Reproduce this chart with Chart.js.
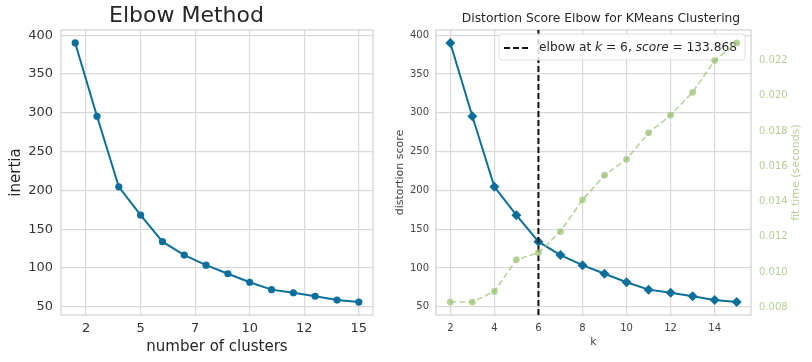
<!DOCTYPE html>
<html>
<head>
<meta charset="utf-8">
<script src="https://cdn.jsdelivr.net/npm/chart.js@4"></script>
<style>
  body { margin: 0; background: #fff; }
  #left-chart { position: absolute; left: 0; top: 0; }
  #right-chart { position: absolute; left: 390px; top: 0; }
</style>
</head>
<body>
<canvas id="left-chart" width="390" height="362"></canvas>
<canvas id="right-chart" width="422" height="362"></canvas>
<script>
// data
const kValues = [2, 3, 4, 5, 6, 7, 8, 9, 10, 11, 12, 13, 14, 15]
const inertia = [390, 295.5, 204.5, 168, 133.868, 116.5, 103.5, 92.5, 81.5, 72, 68, 63.5, 58.5, 56]
const fitTimes = [0.0083, 0.0083, 0.0089, 0.0107, 0.0111, 0.0123, 0.0141, 0.0155, 0.0164, 0.0179, 0.0189, 0.0202, 0.0220, 0.0230]
const elbowK = 6
const elbowScore = 133.868

const leftXTickValues = [2.5, 5, 7.5, 10, 12.5, 15]
const leftXTickLabels = ['2', '5', '7', '10', '12', '15']
const rightXTickValues = [2, 4, 6, 8, 10, 12, 14]
const scoreTickValues = [50, 100, 150, 200, 250, 300, 350, 400]
const timeTickValues = [0.008, 0.010, 0.012, 0.014, 0.016, 0.018, 0.020, 0.022]

const blue = '#0c6f9b'
const green = 'rgba(159, 195, 119, 0.75)'
const greenText = '#b3cf95'
const gridColor = '#d9d9d9'

Chart.defaults.font.family = "'DejaVu Sans', sans-serif"
Chart.defaults.color = '#333'

// matplotlib style 5% margins around the data
function padRange(values) {
    const lo = Math.min(...values), hi = Math.max(...values)
    const m = (hi - lo) * 0.05
    return { min: lo - m, max: hi + m }
}
const xRange = padRange(kValues)
const scoreRange = padRange(inertia)
const timeRange = padRange(fitTimes)

function fixedTicks(values) {
    return axis => { axis.ticks = values.map(v => ({ value: v })) }
}

const framePlugin = {
    id: 'frame',
    beforeDatasetsDraw(chart) {
        const a = chart.chartArea
        const ctx = chart.ctx
        ctx.save()
        ctx.strokeStyle = '#d0d0d0'
        ctx.lineWidth = 1.2
        ctx.strokeRect(a.left, a.top, a.right - a.left, a.bottom - a.top)
        ctx.restore()
    }
}

function initElbowChart() {
    const ctx = document.getElementById('left-chart')
    new Chart(ctx, {
        type: 'line',
        data: {
            datasets: [{
                label: 'inertia',
                data: kValues.map((k, i) => ({ x: k, y: inertia[i] })),
                borderColor: blue,
                backgroundColor: blue,
                borderWidth: 2,
                pointRadius: 3.6,
                pointBorderWidth: 0,
                tension: 0
            }]
        },
        options: {
            responsive: false,
            animation: false,
            layout: { padding: { right: 17 } },
            scales: {
                x: {
                    type: 'linear',
                    min: xRange.min,
                    max: xRange.max,
                    afterBuildTicks: fixedTicks(leftXTickValues),
                    afterFit: s => { s.height = 47 },
                    grid: { color: gridColor, lineWidth: 1.2, drawTicks: false },
                    border: { display: false },
                    ticks: {
                        font: { size: 13 },
                        color: '#333',
                        padding: 6,
                        maxRotation: 0,
                        autoSkip: false,
                        callback: (v, i) => leftXTickLabels[i]
                    },
                    title: {
                        display: true,
                        text: 'number of clusters',
                        font: { size: 15 },
                        color: '#262626',
                        padding: { top: 0, bottom: 6 }
                    }
                },
                y: {
                    min: scoreRange.min,
                    max: scoreRange.max,
                    afterBuildTicks: fixedTicks(scoreTickValues),
                    afterFit: s => { s.width = 61 },
                    grid: { color: gridColor, lineWidth: 1.2, drawTicks: false },
                    border: { display: false },
                    ticks: { font: { size: 13 }, color: '#333', padding: 8 },
                    title: {
                        display: true,
                        text: 'inertia',
                        font: { size: 15 },
                        color: '#262626',
                        padding: { top: 7, bottom: 0 }
                    }
                }
            },
            plugins: {
                legend: { display: false },
                tooltip: { enabled: false },
                title: {
                    display: true,
                    text: 'Elbow Method',
                    color: '#262626',
                    font: { size: 22, weight: 'normal' },
                    padding: { top: 3, bottom: 0.6 }
                }
            }
        },
        plugins: [framePlugin]
    })
}

// legend box with the italic k and score, drawn under the fit time line
const elbowLegendPlugin = {
    id: 'elbowLegend',
    afterDatasetDraw(chart, args) {
        if (args.index !== 2) return
        const a = chart.chartArea
        const ctx = chart.ctx
        const normal = "12.2px 'DejaVu Sans'"
        const italic = "italic 12.2px 'DejaVu Sans'"
        const parts = [
            [normal, 'elbow at '], [italic, 'k'], [normal, ' = ' + elbowK + ', '],
            [italic, 'score'], [normal, ' = ' + elbowScore.toFixed(3)]
        ]
        ctx.save()
        let textW = 0
        parts.forEach(p => { ctx.font = p[0]; textW += ctx.measureText(p[1]).width })
        const boxRight = a.right - 6
        const boxLeft = boxRight - (5 + 25 + 10 + textW + 8)
        const boxTop = a.top + 4, boxBottom = a.top + 30
        ctx.fillStyle = 'rgba(255,255,255,0.85)'
        ctx.strokeStyle = 'rgba(215,215,215,0.8)'
        ctx.lineWidth = 1
        ctx.beginPath()
        ctx.roundRect(boxLeft, boxTop, boxRight - boxLeft, boxBottom - boxTop, 3)
        ctx.fill()
        ctx.stroke()
        const midY = (boxTop + boxBottom) / 2 + 1
        ctx.strokeStyle = '#111'
        ctx.lineWidth = 2
        ctx.setLineDash([6, 3])
        ctx.beginPath()
        ctx.moveTo(boxLeft + 5, midY)
        ctx.lineTo(boxLeft + 30, midY)
        ctx.stroke()
        ctx.setLineDash([])
        ctx.fillStyle = '#262626'
        ctx.textBaseline = 'middle'
        let x = boxLeft + 40
        parts.forEach(p => {
            ctx.font = p[0]
            ctx.fillText(p[1], x, midY)
            x += ctx.measureText(p[1]).width
        })
        ctx.restore()
    }
}

// right axis title reads bottom-to-top like matplotlib's twinx label
const fitTimeTitlePlugin = {
    id: 'fitTimeTitle',
    afterDraw(chart) {
        const s = chart.scales.y1
        const a = chart.chartArea
        const ctx = chart.ctx
        ctx.save()
        ctx.translate(s.right - 16, (a.top + a.bottom) / 2)
        ctx.rotate(-Math.PI / 2)
        ctx.font = "11px 'DejaVu Sans'"
        ctx.fillStyle = greenText
        ctx.textAlign = 'center'
        ctx.textBaseline = 'middle'
        ctx.fillText('fit time (seconds)', 0, 0)
        ctx.restore()
    }
}

function initDistortionChart() {
    const ctx = document.getElementById('right-chart')
    new Chart(ctx, {
        type: 'line',
        data: {
            datasets: [{
                label: 'distortion score',
                data: kValues.map((k, i) => ({ x: k, y: inertia[i] })),
                borderColor: blue,
                backgroundColor: blue,
                borderWidth: 2,
                pointStyle: 'rectRot',
                pointRadius: 5,
                pointBorderWidth: 0,
                yAxisID: 'y',
                order: 3
            }, {
                label: 'fit time',
                data: kValues.map((k, i) => ({ x: k, y: fitTimes[i] })),
                borderColor: green,
                backgroundColor: green,
                borderWidth: 1.6,
                borderDash: [6, 3],
                pointRadius: 3.4,
                pointBorderWidth: 0,
                yAxisID: 'y1',
                order: 0
            }, {
                label: 'elbow at k = ' + elbowK + ', score = ' + elbowScore,
                data: [{ x: elbowK, y: scoreRange.min }, { x: elbowK, y: scoreRange.max }],
                borderColor: '#111',
                borderWidth: 2,
                borderDash: [6, 3],
                pointRadius: 0,
                yAxisID: 'y',
                order: 1
            }]
        },
        options: {
            responsive: false,
            animation: false,
            scales: {
                x: {
                    type: 'linear',
                    min: xRange.min,
                    max: xRange.max,
                    afterBuildTicks: fixedTicks(rightXTickValues),
                    afterFit: s => { s.height = 47 },
                    grid: { color: gridColor, lineWidth: 1.2, drawTicks: false },
                    border: { display: false },
                    ticks: { font: { size: 10 }, color: '#444', padding: 7, maxRotation: 0, autoSkip: false },
                    title: {
                        display: true,
                        text: 'k',
                        font: { size: 11 },
                        color: '#444',
                        padding: { top: 0, bottom: 13.4 }
                    }
                },
                y: {
                    min: scoreRange.min,
                    max: scoreRange.max,
                    afterBuildTicks: fixedTicks(scoreTickValues),
                    afterFit: s => { s.width = 46 },
                    grid: { color: gridColor, lineWidth: 1.2, drawTicks: false },
                    border: { display: false },
                    ticks: { font: { size: 10 }, color: '#444', padding: 7 },
                    title: {
                        display: true,
                        text: 'distortion score',
                        font: { size: 11 },
                        color: '#444',
                        padding: { top: 3.4, bottom: 0 }
                    }
                },
                y1: {
                    position: 'right',
                    min: timeRange.min,
                    max: timeRange.max,
                    afterBuildTicks: fixedTicks(timeTickValues),
                    afterFit: s => { s.width = 61 },
                    grid: { display: false, drawTicks: false },
                    border: { display: false },
                    ticks: {
                        font: { size: 10 },
                        color: greenText,
                        padding: 8,
                        callback: v => v.toFixed(3)
                    },
                    title: { display: false }
                }
            },
            plugins: {
                legend: { display: false },
                tooltip: { enabled: false },
                title: {
                    display: true,
                    text: 'Distortion Score Elbow for KMeans Clustering',
                    color: '#262626',
                    font: { size: 12.3, weight: 'normal' },
                    padding: { top: 11.6, bottom: 3.64 }
                }
            }
        },
        plugins: [framePlugin, elbowLegendPlugin, fitTimeTitlePlugin]
    })
}

initElbowChart()
initDistortionChart()
</script>
</body>
</html>
